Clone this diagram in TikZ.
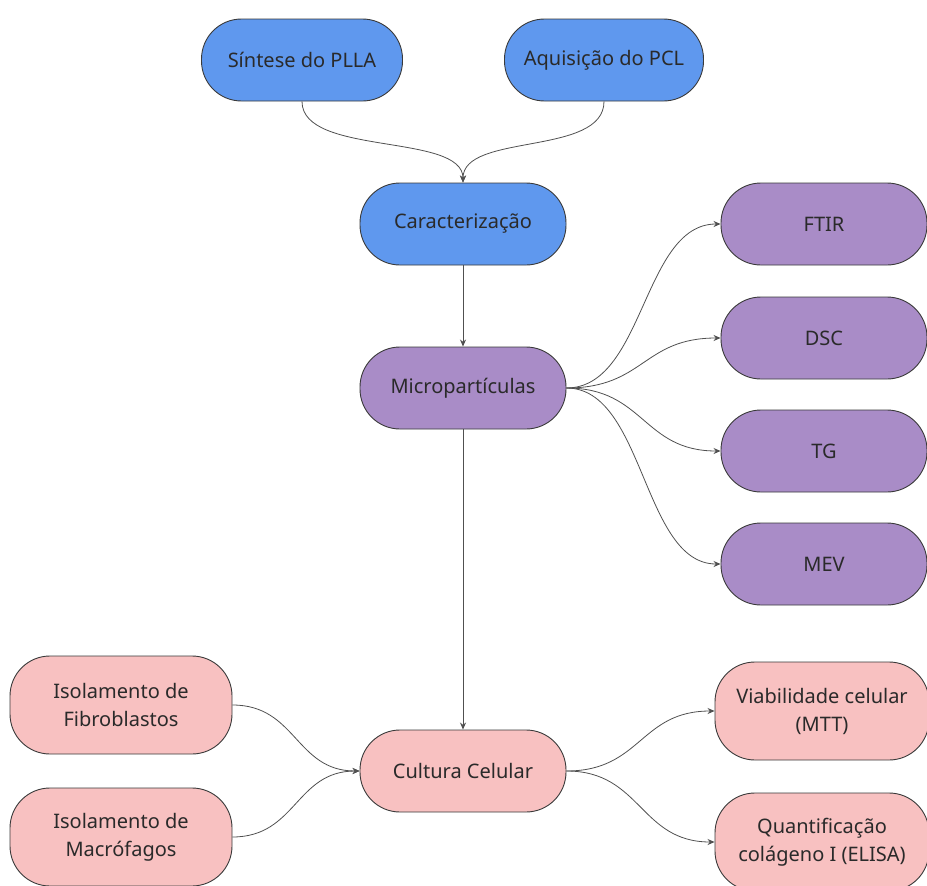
\documentclass[tikz,border=0pt]{standalone}
\usepackage{fontspec}
\setmainfont{Noto Sans}
\usetikzlibrary{arrows.meta,calc}
\definecolor{cblue}{HTML}{5F98EE}
\definecolor{cpurple}{HTML}{A98CC7}
\definecolor{cpink}{HTML}{F8C1C1}
\definecolor{cedge}{HTML}{3A3A3A}
\definecolor{ctext}{HTML}{2A2A2A}
\definecolor{cline}{HTML}{505050}
\tikzset{
  pill/.style={draw=cedge, line width=0.9pt, rounded corners=40pt, inner sep=0pt,
    minimum height=82pt, minimum width=206pt, align=center, text=ctext,
    font=\fontsize{20}{28}\selectfont},
  tall/.style={minimum height=98pt, minimum width=222pt},
  blue/.style={pill, fill=cblue},
  purp/.style={pill, fill=cpurple},
  pink/.style={pill, fill=cpink},
  conn/.style={draw=cline, line width=0.8pt, -{Stealth[length=7pt,width=6pt]}}
}
\begin{document}
\begin{tikzpicture}[x=1pt,y=-1pt]
\useasboundingbox (0,0) rectangle (927,886);
\begin{scope}
\clip (0,0) rectangle (927,886);
\node[blue, minimum width=201pt] (sint) at (302,60) {Síntese do PLLA};
\node[blue, minimum width=199pt] (aqui) at (604,60) {Aquisição do PCL};
\node[blue] (carac) at (463,224) {Caracterização};
\node[purp] (micro) at (463,388) {Micropartículas};
\node[purp] (ftir) at (824,224) {FTIR};
\node[purp] (dsc) at (824,338) {DSC};
\node[purp] (tg) at (824,451) {TG};
\node[purp] (mev) at (824,564) {MEV};
\node[pink] (cult) at (463,771) {Cultura Celular};
\node[pink, tall] (fib) at (121,705) {Isolamento de\\Fibroblastos};
\node[pink, tall] (mac) at (121,837) {Isolamento de\\Macrófagos};
\node[pink, tall, minimum width=214pt] (viab) at (822,711) {Viabilidade celular\\(MTT)};
\node[pink, tall, minimum width=214pt] (quant) at (822,842) {Quantificação\\colágeno I (ELISA)};

\draw[conn] (sint.south) .. controls +(0,55) and +(0,-50) .. (carac.north);
\draw[conn] (aqui.south) .. controls +(0,55) and +(0,-50) .. (carac.north);
\draw[conn] (carac.south) -- (micro.north);
\draw[conn] (micro.south) -- (cult.north);
\foreach \nm in {ftir,dsc,tg,mev}{
  \draw[conn] (micro.east) .. controls +(78,0) and +(-78,0) .. (\nm.west);
}
\foreach \nm in {fib,mac}{
  \draw[conn] (\nm.east) .. controls +(64,0) and +(-64,0) .. (cult.west);
}
\foreach \nm in {viab,quant}{
  \draw[conn] (cult.east) .. controls +(75,0) and +(-75,0) .. (\nm.west);
}
\end{scope}
\end{tikzpicture}
\end{document}
